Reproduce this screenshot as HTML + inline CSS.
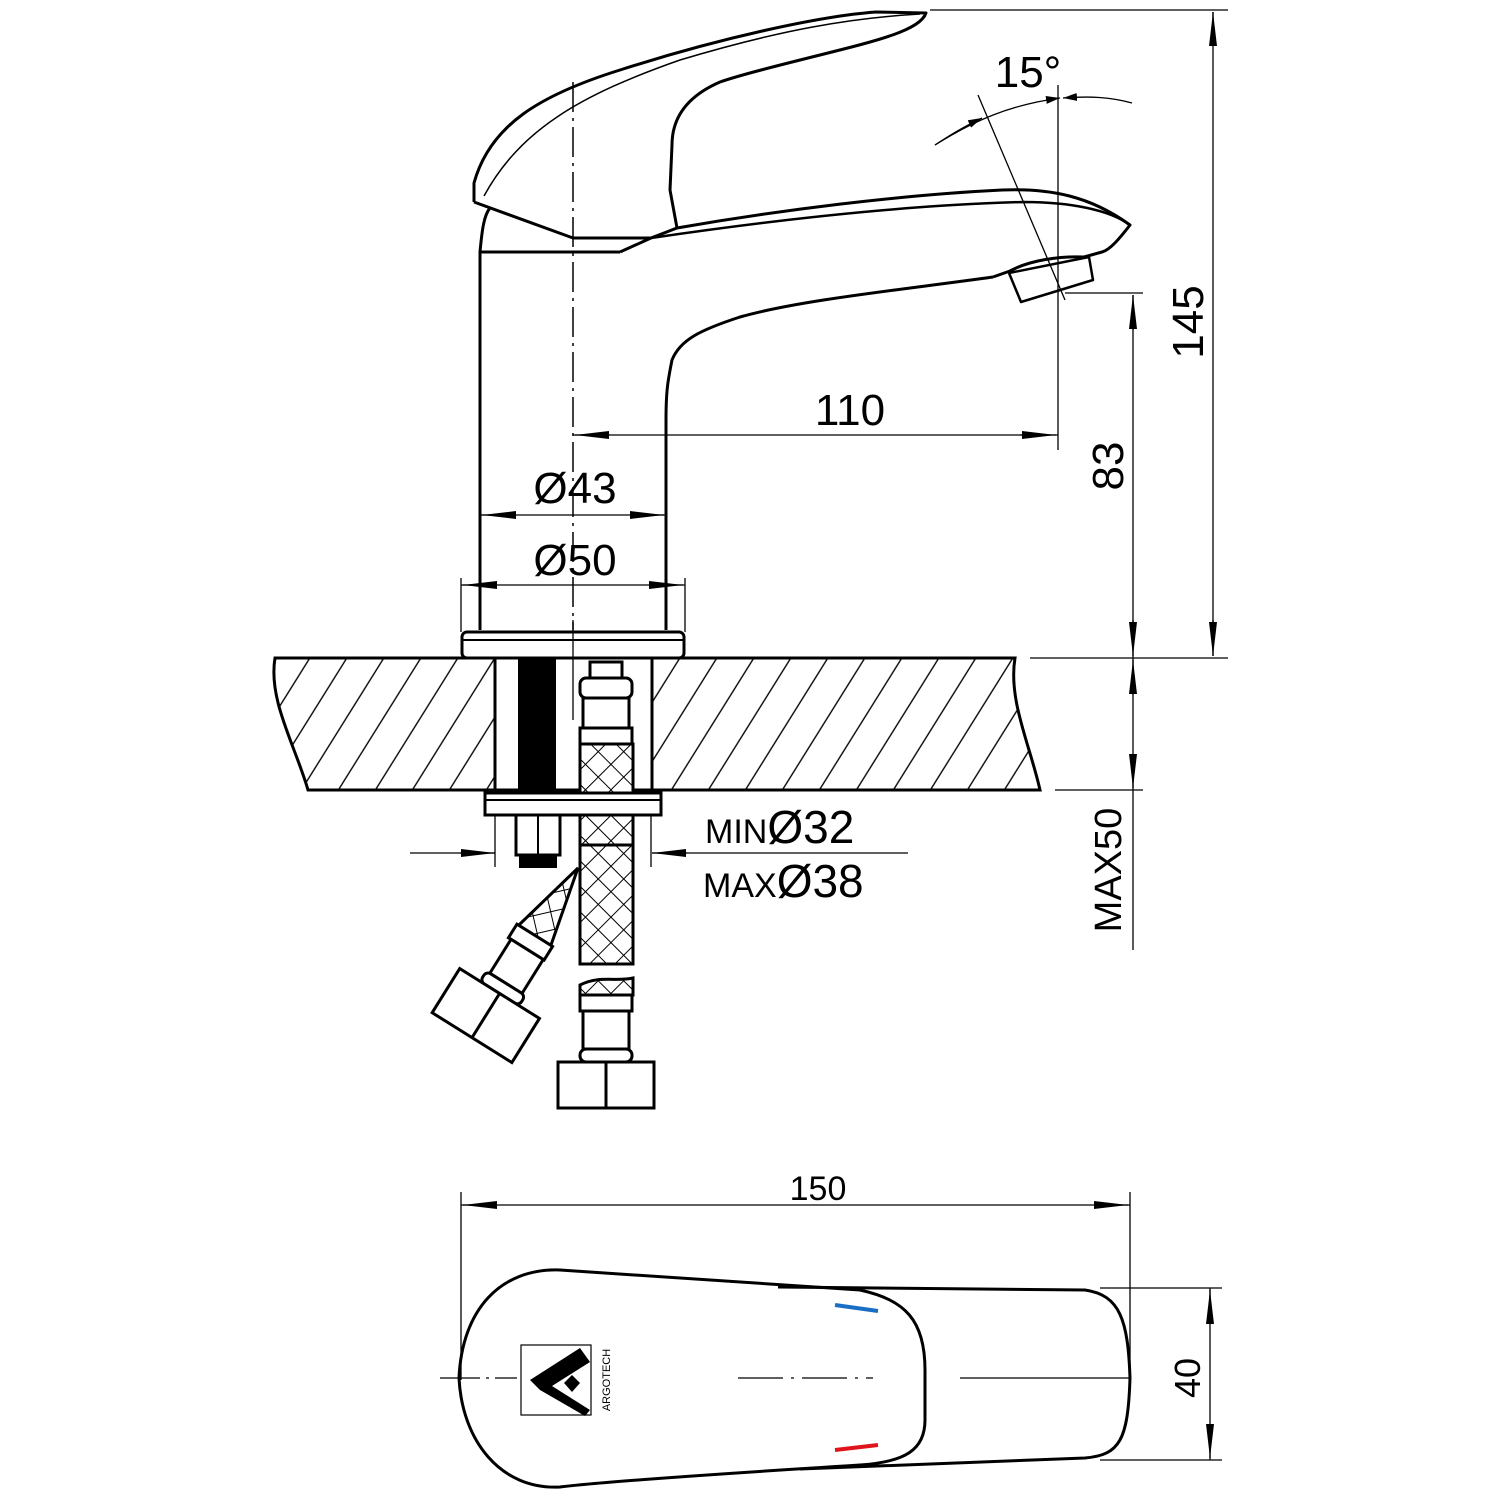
<!DOCTYPE html>
<html><head><meta charset="utf-8"><style>html,body{margin:0;padding:0;background:#fff}svg{display:block}</style></head>
<body>
<svg width="1500" height="1500" viewBox="0 0 1500 1500" xmlns="http://www.w3.org/2000/svg" font-family="Liberation Sans, Arial, sans-serif">
<defs>
<pattern id="hatch" patternUnits="userSpaceOnUse" width="37" height="60" patternTransform="skewX(-32)">
<line x1="18" y1="0" x2="18" y2="60" stroke="#000" stroke-width="1.6"/>
</pattern>
<pattern id="mesh" patternUnits="userSpaceOnUse" width="18" height="18" patternTransform="rotate(45)">
<rect width="18" height="18" fill="#fff"/>
<line x1="0" y1="0" x2="18" y2="0" stroke="#000" stroke-width="2"/>
<line x1="0" y1="0" x2="0" y2="18" stroke="#000" stroke-width="2"/>
</pattern>
<marker id="ar" markerWidth="14" markerHeight="8" refX="14" refY="4" orient="auto" markerUnits="userSpaceOnUse">
<path d="M0,0 L14,4 L0,8 Z" fill="#000"/>
</marker>
<marker id="as" markerWidth="34" markerHeight="10" refX="34" refY="5" orient="auto" markerUnits="userSpaceOnUse">
<path d="M0,1 L34,5 L0,9 Z" fill="#000"/>
</marker>
</defs>

<g fill="none" stroke="#000" stroke-width="3" stroke-linejoin="round">
<!-- handle -->
<path d="M474,202 L474,183 C490,125 540,95 620,70 C720,38 820,16 876,12 L926,13 C920,30 880,40 820,55 C780,65 740,75 720,82 C690,95 672,115 672,145 L670,190 L677,228"/>
<path d="M484,196 C520,130 580,95 680,60 C780,30 850,18 920,14" stroke-width="1.5"/>
<path d="M474,202 L573,238 L651,238"/>
<!-- spout -->
<path d="M620,252 L651,238 L677,228 C780,210 900,195 1002,190 C1050,188 1090,196 1130,225 C1120,238 1110,250 1102,252 L1084,257"/>
<path d="M651,238 C760,222 900,205 1024,202 C1070,202 1110,210 1130,225" stroke-width="2.5"/>
<path d="M480,630 L480,252 L620,252"/>
<path d="M480,252 C482,230 484,215 490,208"/>
<path d="M993,277 L1010,271 C1030,260 1060,256 1084,257"/>
<path d="M1009,273 L1089,257 L1093,280 L1021,302 Z" stroke-width="2.5"/>
<path d="M993,277 C900,290 800,300 740,317 C700,330 680,340 672,360 C668,380 666,390 666,420 L666,630"/>
</g>

<!-- centerline -->
<path d="M573,82 L573,630" stroke="#000" stroke-width="1.5" stroke-dasharray="30,6,3,6"/>

<!-- 15 degree -->
<g fill="none" stroke="#000" stroke-width="1.3">
<line x1="978" y1="95" x2="1065" y2="300"/>
<line x1="1058" y1="85" x2="1058" y2="450"/>
<path d="M935,145 C975,120 1010,105 1060,98" marker-end="url(#ar)"/>
<path d="M1132,103 C1110,97 1090,96 1063,98" marker-end="url(#ar)"/>
<path d="M935,145 C950,135 965,126 982,118" marker-end="url(#ar)"/>
</g>
<text x="1028" y="87" font-size="44" text-anchor="middle">15°</text>

<!-- dim lines -->
<g stroke="#000" stroke-width="1.3" fill="none">
<line x1="930" y1="10" x2="1228" y2="10"/>
<line x1="1030" y1="658" x2="1228" y2="658"/>
<line x1="1213" y1="12" x2="1213" y2="656"/>
<path d="M1213,45 L1213,12" marker-end="url(#as)"/>
<path d="M1213,620 L1213,656" marker-end="url(#as)"/>
<line x1="1065" y1="293" x2="1143" y2="293"/>
<line x1="1055" y1="790" x2="1143" y2="790"/>
<line x1="1133" y1="295" x2="1133" y2="950"/>
<path d="M1133,330 L1133,295" marker-end="url(#as)"/>
<path d="M1133,620 L1133,656" marker-end="url(#as)"/>
<path d="M1133,695 L1133,660" marker-end="url(#as)"/>
<path d="M1133,755 L1133,788" marker-end="url(#as)"/>
<line x1="573" y1="435" x2="1058" y2="435"/>
<path d="M610,435 L575,435" marker-end="url(#as)"/>
<path d="M1020,435 L1056,435" marker-end="url(#as)"/>
<line x1="480" y1="515" x2="666" y2="515"/>
<path d="M516,515 L482,515" marker-end="url(#as)"/>
<path d="M630,515 L664,515" marker-end="url(#as)"/>
<line x1="461" y1="578" x2="461" y2="632"/>
<line x1="685" y1="578" x2="685" y2="632"/>
<line x1="461" y1="585" x2="685" y2="585"/>
<path d="M497,585 L463,585" marker-end="url(#as)"/>
<path d="M649,585 L683,585" marker-end="url(#as)"/>
<line x1="410" y1="853" x2="495" y2="853"/>
<path d="M460,853 L495,853" marker-end="url(#as)"/>
<line x1="652" y1="853" x2="908" y2="853"/>
<path d="M687,853 L652,853" marker-end="url(#as)"/>
<line x1="495" y1="815" x2="495" y2="867"/>
<line x1="651" y1="815" x2="651" y2="867"/>
</g>
<text x="1188" y="322" font-size="44" text-anchor="middle" transform="rotate(-90 1188 322)" dy="15">145</text>
<text x="1108" y="466" font-size="44" text-anchor="middle" transform="rotate(-90 1108 466)" dy="15">83</text>
<text x="1108" y="870" font-size="38" text-anchor="middle" transform="rotate(-90 1108 870)" dy="13">MAX50</text>
<text x="850" y="425" font-size="44" text-anchor="middle">110</text>
<text x="575" y="503" font-size="44" text-anchor="middle">Ø43</text>
<text x="575" y="575" font-size="44" text-anchor="middle">Ø50</text>
<text x="705" y="843" font-size="46"><tspan font-size="34">MIN</tspan>Ø32</text>
<text x="703" y="897" font-size="46"><tspan font-size="34">MAX</tspan>Ø38</text>

<!-- counter -->
<path d="M275,658 L1015,658 C1008,700 1030,745 1040,790 L308,790 C295,745 268,700 275,658 Z" fill="url(#hatch)" stroke="#000" stroke-width="3"/>
<rect x="495" y="658" width="157" height="132" fill="#fff" stroke="#000" stroke-width="3"/>
<rect x="462" y="632" width="222" height="26" rx="5" fill="#fff" stroke="#000" stroke-width="3"/>
<line x1="462" y1="640" x2="684" y2="640" stroke="#000" stroke-width="2"/>
<rect x="518" y="658" width="38" height="135" fill="#000"/>
<line x1="573" y1="620" x2="573" y2="720" stroke="#000" stroke-width="1.3"/>
<!-- hose -->
<g stroke="#000" stroke-width="3">
<rect x="590" y="662" width="32" height="16" fill="#fff"/>
<rect x="580" y="678" width="52" height="20" rx="6" fill="#fff"/>
<rect x="583" y="698" width="46" height="32" fill="#fff"/>
<rect x="580" y="728" width="52" height="16" fill="#fff"/>
<rect x="580" y="744" width="53" height="220" fill="url(#mesh)"/>
<path d="M580,985 C600,975 615,982 633,978 L633,995 L580,995 Z" fill="url(#mesh)"/>
<rect x="580" y="995" width="52" height="16" fill="#fff"/>
<rect x="583" y="1011" width="46" height="38" fill="#fff"/>
<rect x="580" y="1049" width="52" height="13" rx="6" fill="#fff"/>
<rect x="558" y="1062" width="96" height="46" fill="#fff"/>
<line x1="606" y1="1062" x2="606" y2="1108"/>
</g>
<rect x="485" y="793" width="176" height="22" fill="#fff" stroke="#000" stroke-width="3"/>
<line x1="485" y1="800" x2="661" y2="800" stroke="#000" stroke-width="2"/>
<rect x="580" y="815" width="53" height="30" fill="url(#mesh)" stroke="#000" stroke-width="3"/>
<!-- nut -->
<rect x="516" y="815" width="44" height="40" fill="#fff" stroke="#000" stroke-width="3"/>
<line x1="538" y1="815" x2="538" y2="855" stroke="#000" stroke-width="2"/>
<rect x="519" y="855" width="38" height="13" fill="#000"/>
<!-- angled hose -->
<g transform="translate(578,868) rotate(32)" stroke="#000" stroke-width="3">
<path d="M0,0 L-20,80 L18,80 Z" fill="url(#mesh)"/>
<rect x="-22" y="80" width="42" height="16" fill="#fff"/>
<rect x="-19" y="96" width="38" height="40" fill="#fff"/>
<rect x="-23" y="136" width="46" height="12" rx="5" fill="#fff"/>
<rect x="-47" y="148" width="94" height="52" fill="#fff"/>
<line x1="0" y1="148" x2="0" y2="200"/>
</g>

<!-- top view -->
<g stroke="#000" stroke-width="1.3" fill="none">
<line x1="461" y1="1192" x2="461" y2="1380"/>
<line x1="1130" y1="1192" x2="1130" y2="1380"/>
<line x1="461" y1="1205" x2="1130" y2="1205"/>
<path d="M497,1205 L463,1205" marker-end="url(#as)"/>
<path d="M1094,1205 L1128,1205" marker-end="url(#as)"/>
<line x1="1100" y1="1288" x2="1222" y2="1288"/>
<line x1="1100" y1="1460" x2="1222" y2="1460"/>
<line x1="1210" y1="1288" x2="1210" y2="1460"/>
<path d="M1210,1324 L1210,1290" marker-end="url(#as)"/>
<path d="M1210,1424 L1210,1458" marker-end="url(#as)"/>
<path d="M440,1378 L517,1378" stroke-dasharray="40,6,3,6"/>
<path d="M738,1378 L873,1378" stroke-dasharray="45,8,3,8"/>
<line x1="960" y1="1378" x2="1130" y2="1378"/>
</g>
<text x="818" y="1200" font-size="34" text-anchor="middle">150</text>
<text x="1188" y="1378" font-size="36" text-anchor="middle" transform="rotate(-90 1188 1378)" dy="12">40</text>
<g fill="none" stroke="#000" stroke-width="3">
<path d="M778,1287 L1085,1290 C1120,1295 1128,1320 1130,1378 C1128,1440 1120,1455 1085,1458 L800,1469"/>
<path d="M560,1270 C600,1273 700,1280 860,1290 C905,1300 925,1320 925,1370 L925,1420 C925,1450 905,1462 860,1465 C700,1475 600,1482 560,1487 C500,1490 462,1440 459,1378 C462,1310 500,1268 560,1270 Z"/>
</g>
<line x1="835" y1="1305" x2="878" y2="1311" stroke="#1a6fc4" stroke-width="4"/>
<line x1="835" y1="1450" x2="878" y2="1445" stroke="#e0151b" stroke-width="4"/>
<rect x="521" y="1345" width="70" height="70" fill="#fff" stroke="#000" stroke-width="1.2"/>
<path d="M530,1380 L580,1348 L590,1362 L552,1386 L590,1410 L585,1416 L540,1390 Z" fill="#000"/>
<path d="M572,1375 L580,1383 L572,1392 L564,1383 Z" fill="#000"/>
<text x="606" y="1380" font-size="11" text-anchor="middle" transform="rotate(-90 606 1380)" dy="4">ARGOTECH</text>
</svg>
</body></html>
